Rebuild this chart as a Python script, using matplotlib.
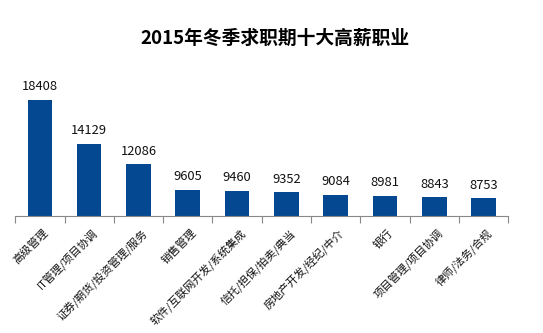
import matplotlib
matplotlib.use('Agg')
import matplotlib.pyplot as plt

plt.rcParams['font.family'] = ['Noto Sans CJK SC', 'DejaVu Sans']

# top ten paid jobs, winter 2015
jobs = ['高级管理', 'IT管理/项目协调', '证券/期货/投资管理/服务', '销售管理',
        '软件/互联网开发/系统集成', '信托/担保/拍卖/典当', '房地产开发/经纪/中介',
        '银行', '项目管理/项目协调', '律师/法务/合规']
salary = [18408, 14129, 12086, 9605, 9460, 9352, 9084, 8981, 8843, 8753]

fig = plt.figure(figsize=(5.43, 3.33), dpi=100)
ax = fig.add_axes([0.028, 0.351, 0.908, 0.44])

x = range(len(jobs))
bars = ax.bar(x, salary, width=0.5, color='#044891', zorder=2)
ax.set_ylim(7000, 21400)
ax.set_xlim(-0.5, len(jobs) - 0.5)

for xi, v in zip(x, salary):
    ax.text(xi, v + 650, str(v), ha='center', va='bottom', fontsize=9.3, color='#111111')

# category boundary ticks
ax.set_xticks([i - 0.5 for i in range(len(jobs) + 1)])
ax.set_xticklabels([])
ax.tick_params(axis='x', length=5, color='#888888', width=0.8)
ax.set_yticks([])
for s in ['top', 'right', 'left']:
    ax.spines[s].set_visible(False)
ax.spines['bottom'].set_color('#888888')

for xi, name in zip(x, jobs):
    ax.annotate(name, xy=(xi, 7000), xycoords='data', xytext=(2, -8),
                textcoords='offset points', rotation=45, ha='right', va='top',
                rotation_mode='anchor', fontsize=7.9, color='#111111')

fig.text(0.506, 0.885, '2015年冬季求职期十大高薪职业', ha='center', va='center',
         fontsize=13.5, fontweight='bold')

fig.savefig('out.png', dpi=100)
